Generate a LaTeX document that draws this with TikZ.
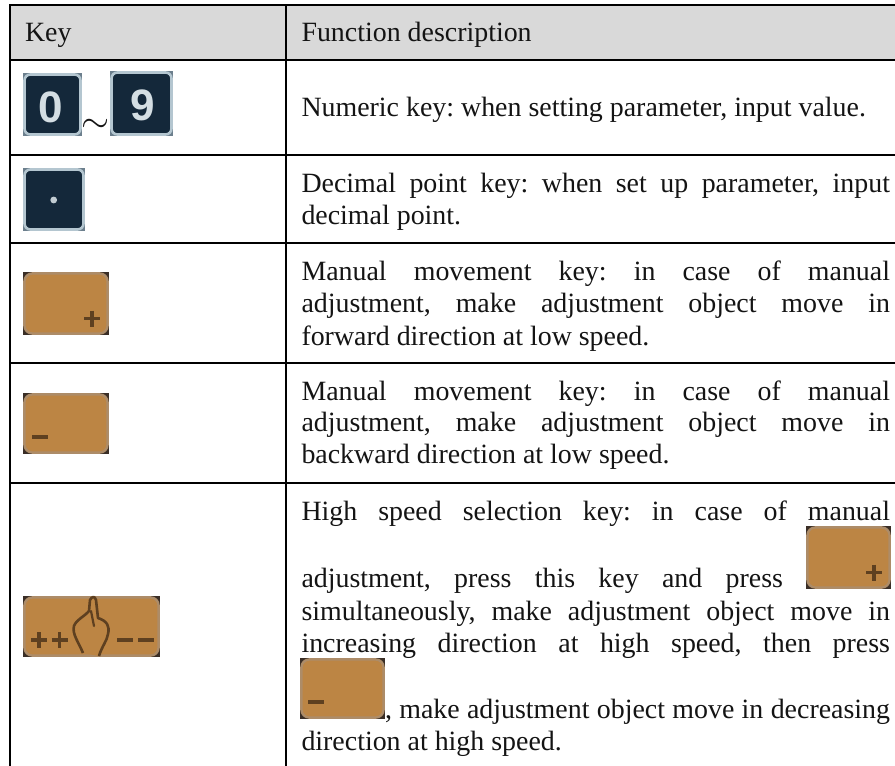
\documentclass[tikz,border=0pt]{standalone}
\usepackage{fontspec}
\setmainfont{Liberation Serif}
\newfontfamily\keyfont{Liberation Sans}
\definecolor{hdr}{HTML}{D9D9D9}
\definecolor{ink}{HTML}{141414}
\definecolor{keydark}{HTML}{14283A}
\definecolor{keyedge}{HTML}{B4C6D0}
\definecolor{keyglyph}{HTML}{D4DEE3}
\definecolor{tan}{HTML}{BC8544}
\definecolor{tanedge}{HTML}{AD8C68}
\definecolor{tancorner}{HTML}{3A2E26}
\definecolor{tanmark}{HTML}{5E4020}
\tikzset{
  x=1pt,y=-1pt,
  rule/.style={black,line width=1.8pt},
  textline/.style={anchor=base west,inner sep=0pt,outer sep=0pt,text=ink,font=\fontsize{27.9}{32}\selectfont\frenchspacing},
  glyph/.style={anchor=center,inner sep=0pt,text=keyglyph,font=\fontsize{44}{44}\keyfont\bfseries},
  markline/.style={draw=tanmark,line width=3.2pt,line cap=butt},
}
% justified line of text: name, x, baseline, width, text
\newcommand{\jline}[5]{\node[textline] (#1) at (#2,#3) {\hbox to #4pt{\spaceskip=.25em plus 1fil\relax #5}};}
\newcommand{\pline}[4]{\node[textline] (#1) at (#2,#3) {#4};}
% dark key: x0,y0,x1,y1
\newcommand{\darkkey}[4]{%
  \fill[keydark!45!keyedge] (#1,#2) rectangle (#3,#4);
  \fill[keydark,draw=keyedge,line width=2.6pt,rounded corners=6pt] (#1+1.5,#2+1.5) rectangle (#3-1.5,#4-1.5);}
% tan key
\newcommand{\tankey}[4]{%
  \fill[tancorner] (#1,#2) rectangle (#3,#4);
  \fill[tan,draw=tanedge,line width=2.4pt,rounded corners=8pt] (#1+1.4,#2+1.4) rectangle (#3-1.4,#4-1.4);}
\newcommand{\plusmark}[2]{%
  \draw[markline] (#1-8,#2) -- (#1+8,#2);
  \draw[markline] (#1,#2-8) -- (#1,#2+8);}
\newcommand{\minusmark}[2]{\draw[markline] (#1-8,#2) -- (#1+8,#2);}
\begin{document}
\begin{tikzpicture}
\useasboundingbox (0,0) rectangle (895,766);
\fill[white] (0,0) rectangle (895,766);
\fill[hdr] (10,5) rectangle (895,59.7);
% table rules
\draw[rule] (10,5) -- (895,5);
\draw[rule] (10,59.7) -- (895,59.7);
\draw[rule] (10,154.7) -- (895,154.7);
\draw[rule] (10,242.8) -- (895,242.8);
\draw[rule] (10,363) -- (895,363);
\draw[rule] (10,483) -- (895,483);
\draw[rule] (10,4.1) -- (10,766);
\draw[rule] (286,4.1) -- (286,766);
% header
\pline{hkey}{25}{41.7}{Key}
\pline{hfun}{301.5}{41.7}{Function description}
% text
\pline{t1}{301.5}{116.7}{Numeric key: when setting parameter, input value.}
\jline{t2a}{301.5}{192.7}{588.5}{Decimal point key: when set up parameter, input}
\pline{t2b}{301.5}{224}{decimal point.}
\jline{t3a}{301.5}{280}{588.5}{Manual movement key: in case of manual}
\jline{t3b}{301.5}{312.7}{588.5}{adjustment, make adjustment object move in}
\pline{t3c}{301.5}{345}{forward direction at low speed.}
\jline{t4a}{301.5}{400}{588.5}{Manual movement key: in case of manual}
\jline{t4b}{301.5}{431.7}{588.5}{adjustment, make adjustment object move in}
\pline{t4c}{301.5}{463}{backward direction at low speed.}
\jline{t5a}{301.5}{520}{588.5}{High speed selection key: in case of manual}
\jline{t5b}{301.5}{587.7}{481.5}{adjustment, press this key and press}
\jline{t5c}{301.5}{620}{588.5}{simultaneously, make adjustment object move in}
\jline{t5d}{301.5}{652}{588.5}{increasing direction at high speed, then press}
\jline{t5e}{385}{718}{505}{, make adjustment object move in decreasing}
\pline{t5f}{301.5}{750}{direction at high speed.}
% numeric keys
\darkkey{23}{73}{82}{136}
\node[glyph] (zero) at (51,107.5) {0};
\node[anchor=center,inner sep=0pt,text=ink,transform shape,scale=1.45,font=\fontsize{32}{32}\selectfont] (tilde) at (95.5,125.5) {$\sim$};
\darkkey{110}{71}{173}{136}
\node[glyph] (nine) at (142.5,105) {9};
% decimal key
\darkkey{23}{168}{85}{231}
\fill[keyglyph!90!keydark] (53.7,200) circle (3.4);
% plus / minus keys
\tankey{23}{272}{109}{335}
\plusmark{92}{318.5}
\tankey{23}{393}{109}{454}
\minusmark{40}{437}
% inline keys
\tankey{806}{526}{891}{589}
\plusmark{874}{572.5}
\tankey{300}{658}{385}{719}
\minusmark{316}{702}
% high speed key
\tankey{23}{596}{160}{657}
\begin{scope}[shift={(23,596)}]
\plusmark{16}{44}
\plusmark{36.5}{44}
\minusmark{102}{44}
\minusmark{123}{44}
\fill[tan] (60,57) .. controls (55,45) and (49,38) .. (51,30) .. controls (53,24) and (62,20) .. (66,15) -- (67,4) .. controls (69,0) and (72,0) .. (73,4) -- (75,22) .. controls (84,25) and (87,30) .. (85,38) .. controls (84,45) and (79,50) .. (76,60) -- cycle;
\draw[draw=tanmark,line width=2.6pt,line cap=butt,line join=round] (60,57) .. controls (55,45) and (49,38) .. (51,30) .. controls (53,24) and (62,20) .. (66,15) -- (67,4) .. controls (69,0) and (72,0) .. (73,4) -- (75,22) .. controls (84,25) and (87,30) .. (85,38) .. controls (84,45) and (79,50) .. (76,60);
\draw[draw=tanmark,line width=2.2pt,line cap=round] (68,15) -- (71,30);
\end{scope}
\end{tikzpicture}
\end{document}
